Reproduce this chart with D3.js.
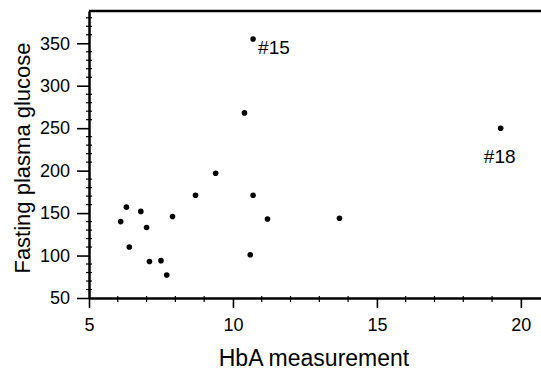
<!DOCTYPE html>
<html><head><meta charset="utf-8">
<script src="https://cdn.jsdelivr.net/npm/d3@7"></script>
<style>
html,body{margin:0;padding:0;background:#fff;}
svg{display:block;}
text{font-family:"Liberation Sans",Arial,Helvetica,sans-serif;fill:#000;}
</style></head>
<body>
<svg id="chart" width="541" height="371"></svg>
<script>
const hba = [6.1, 6.3, 6.8, 6.4, 7.0, 7.1, 7.5, 7.7, 7.9, 9.4, 8.7, 10.7, 10.4, 10.7, 19.3, 11.2, 13.7, 10.6];
const glucose = [140, 157, 152, 110, 133, 93, 94, 77, 146, 197, 171, 171, 268, 355, 250, 143, 144, 101];
const annotations = [{label: "#15", index: 13}, {label: "#18", index: 14}];
const xTicks = [5, 10, 15, 20];
const yTicks = [50, 100, 150, 200, 250, 300, 350];
const xTitle = "HbA measurement";
const yTitle = "Fasting plasma glucose";

(function () {
const svg = d3.select("#chart");
const mLeft = 89, mRight = 541, mTop = 11, mBottom = 298;
const x = d3.scaleLinear().domain([5, 20.7]).range([mLeft, mRight]);
const y = d3.scaleLinear().domain([50, 388]).range([mBottom, mTop]);

// minor ticks
const xMinor = d3.range(6, 21, 1).filter(v => !xTicks.includes(v));
svg.append("g").selectAll("line").data(xMinor).join("line")
  .attr("x1", d => x(d)).attr("x2", d => x(d))
  .attr("y1", mBottom - 2).attr("y2", mBottom + 4)
  .attr("stroke", "#000").attr("stroke-width", 1.2);
const yMinor = d3.range(60, 390, 10).filter(v => !yTicks.includes(v));
svg.append("g").selectAll("line").data(yMinor).join("line")
  .attr("x1", mLeft - 3).attr("x2", mLeft + 3)
  .attr("y1", d => y(d)).attr("y2", d => y(d))
  .attr("stroke", "#000").attr("stroke-width", 1.2);

// axes
const xAxis = svg.append("g").attr("transform", `translate(0,${mBottom})`)
  .call(d3.axisBottom(x).tickValues(xTicks).tickFormat(d3.format("d")).tickSize(10).tickPadding(10).tickSizeOuter(0));
const yAxis = svg.append("g").attr("transform", `translate(${mLeft},0)`)
  .call(d3.axisLeft(y).tickValues(yTicks).tickFormat(d3.format("d")).tickSize(12).tickPadding(7).tickSizeOuter(0));
[xAxis, yAxis].forEach(g => {
  g.select(".domain").attr("stroke", "#000").attr("stroke-width", 2.5);
  g.selectAll(".tick line").attr("stroke", "#000").attr("stroke-width", 1.6);
  g.selectAll(".tick text").attr("font-size", 18).attr("fill", "#000")
   .style("font-family", '"Liberation Sans",Arial,sans-serif');
});
// top frame
svg.append("line").attr("x1", mLeft).attr("x2", mRight).attr("y1", mTop).attr("y2", mTop)
  .attr("stroke", "#000").attr("stroke-width", 2.5);

// points
svg.append("g").selectAll("circle").data(hba.map((v, i) => [v, glucose[i]])).join("circle")
  .attr("cx", d => x(d[0])).attr("cy", d => y(d[1])).attr("r", 2.8).attr("fill", "#000");

// annotations
const a15 = annotations[0], a18 = annotations[1];
svg.append("text").attr("x", x(hba[a15.index]) + 5).attr("y", y(glucose[a15.index]) + 15)
  .attr("font-size", 19).text(a15.label);
svg.append("text").attr("x", x(hba[a18.index]) - 1).attr("y", y(glucose[a18.index]) + 35)
  .attr("text-anchor", "middle").attr("font-size", 19).text(a18.label);

// titles
svg.append("text").attr("x", 314).attr("y", 366).attr("text-anchor", "middle")
  .attr("font-size", 23).text(xTitle);
svg.append("text").attr("transform", "translate(30,158) rotate(-90)").attr("text-anchor", "middle")
  .attr("font-size", 22).text(yTitle);
})();
</script>
</body></html>
